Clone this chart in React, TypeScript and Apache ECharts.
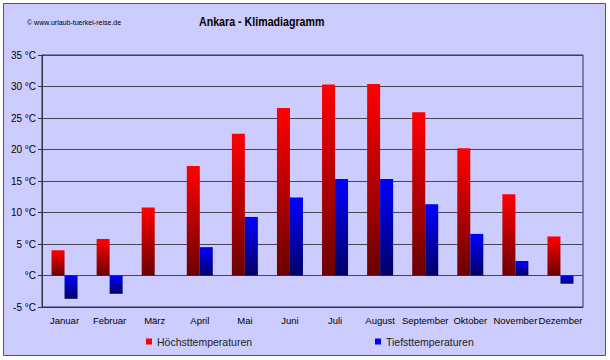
import React, { useEffect, useRef } from "react";
import * as echarts from "echarts";

const months = ["Januar", "Februar", "März", "April", "Mai", "Juni", "Juli", "August", "September", "Oktober", "November", "Dezember"];
const highTemps = [4.0, 5.8, 10.8, 17.4, 22.5, 26.6, 30.3, 30.4, 25.9, 20.2, 12.9, 6.2];
const lowTemps = [-3.7, -2.9, 0, 4.5, 9.3, 12.4, 15.3, 15.3, 11.3, 6.6, 2.3, -1.3];
const highName = "Höchsttemperaturen";
const lowName = "Tiefsttemperaturen";
const titleText = "Ankara - Klimadiagramm";
const sourceText = "© www.urlaub-tuerkei-reise.de";

const FONT = "'Liberation Sans', Arial, sans-serif";

export default function App() {
  const ref = useRef<HTMLDivElement>(null);
  useEffect(() => {
    if (!ref.current) return;
    const chart = echarts.init(ref.current, undefined, { renderer: "svg" });
    const redGrad = new echarts.graphic.LinearGradient(0, 0, 0, 1, [
      { offset: 0, color: "#ff0000" },
      { offset: 1, color: "#6a0000" },
    ]);
    const blueGrad = new echarts.graphic.LinearGradient(0, 0, 0, 1, [
      { offset: 0, color: "#0000ff" },
      { offset: 1, color: "#000066" },
    ]);
    chart.setOption({
      animation: false,
      backgroundColor: "#ffffff",
      textStyle: { fontFamily: FONT },
      graphic: [
        {
          type: "rect",
          z: -10,
          silent: true,
          shape: { x: 3.5, y: 3.5, width: 602, height: 352 },
          style: { fill: "#ccccff", stroke: "#555555", lineWidth: 1 },
        },
        {
          type: "text",
          x: 27,
          y: 18,
          scaleX: 0.88,
          style: { text: sourceText, font: `8px ${FONT}`, fill: "#000000" },
        },
        {
          type: "text",
          x: 199,
          y: 15,
          scaleX: 0.82,
          style: { text: titleText, font: `bold 13px ${FONT}`, fill: "#000000" },
        },
      ],
      legend: [
        {
          data: [{ name: highName, itemStyle: { color: "#ff0000" } }],
          left: 141,
          top: 331,
          icon: "rect",
          itemWidth: 6,
          itemHeight: 6,
          textStyle: { fontSize: 10.5, color: "#222222", fontFamily: FONT },
        },
        {
          data: [{ name: lowName, itemStyle: { color: "#0000ff" } }],
          left: 370,
          top: 331,
          icon: "rect",
          itemWidth: 6,
          itemHeight: 6,
          textStyle: { fontSize: 10.5, color: "#222222", fontFamily: FONT },
        },
      ],
      grid: {
        left: 42,
        right: 27,
        top: 55,
        bottom: 53,
        show: true,
        borderColor: "#333344",
        borderWidth: 1,
        backgroundColor: "#ccccff",
      },
      xAxis: {
        type: "category",
        data: months,
        axisLine: { onZero: false, lineStyle: { color: "#333344" } },
        axisTick: { show: false },
        axisLabel: { fontSize: 9.5, color: "#000000", margin: 8, interval: 0, fontFamily: FONT },
      },
      yAxis: {
        type: "value",
        min: -5,
        max: 35,
        interval: 5,
        axisLine: { show: true, lineStyle: { color: "#333344" } },
        axisTick: { show: true, length: 4, lineStyle: { color: "#333344" } },
        splitLine: { lineStyle: { color: "#444455", width: 1 } },
        axisLabel: {
          fontSize: 10,
          color: "#000000",
          margin: 6,
          fontFamily: FONT,
          formatter: (v: number) => (v === 0 ? "°C" : `${v} °C`),
        },
      },
      series: [
        {
          name: highName,
          type: "bar",
          data: highTemps,
          barWidth: 13,
          barGap: "0%",
          itemStyle: { color: redGrad },
        },
        {
          name: lowName,
          type: "bar",
          data: lowTemps,
          barWidth: 13,
          barGap: "0%",
          itemStyle: { color: blueGrad },
        },
      ],
    });
    return () => chart.dispose();
  }, []);
  return (
    <div
      ref={ref}
      style={{ position: "fixed", left: 0, top: 0, width: 610, height: 360 }}
    />
  );
}
